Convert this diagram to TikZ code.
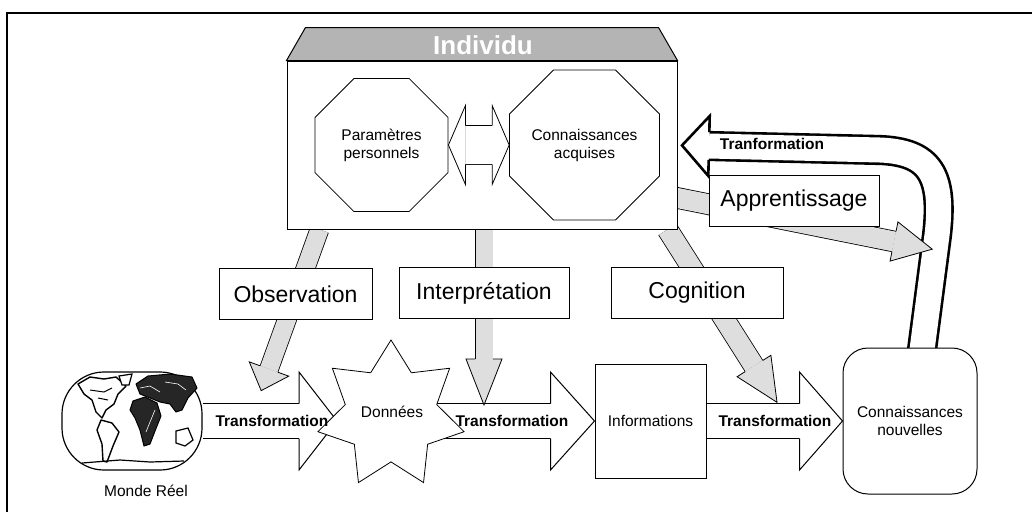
\documentclass[tikz,border=0pt]{standalone}
\usepackage{fontspec}
\setmainfont{Liberation Sans}
\usetikzlibrary{shapes.geometric,decorations.markings,backgrounds,calc}
\definecolor{indgray}{RGB}{180,180,180}
\definecolor{flgray}{RGB}{222,222,222}

% block arrow: fill, shaft width, head half width, head length, line width
\tikzset{
  blockarrow/.style n args={5}{double=#1, double distance=#2pt, line width=#5pt,
    postaction={decorate, decoration={markings, mark=at position 1 with {
      \filldraw[fill=#1, line width=#5pt, line join=miter]
        (0,#2/2+#5/2) -- (0,#3) -- (#4,0) -- (0,-#3) -- (0,-#2/2-#5/2);}}}},
  blocktail/.style n args={5}{
    postaction={decorate, decoration={markings, mark=at position 0 with {
      \filldraw[fill=#1, line width=#5pt, line join=miter]
        (0,#2/2+#5/2) -- (0,#3) -- (-#4,0) -- (0,-#3) -- (0,-#2/2-#5/2);}}}}
}

\begin{document}
\begin{tikzpicture}[x=1pt, y=-1pt,
    box/.style={draw, fill=white, line width=1pt},
    etape/.style={box, minimum height=51, inner sep=0, font=\fontsize{23}{26}\selectfont},
    octo/.style={regular polygon, regular polygon sides=8, minimum size=144, draw, fill=white,
      line width=0.8pt, align=center, inner sep=0, font=\fontsize{15.5}{18}\selectfont},
    small/.style={font=\fontsize{15.5}{18}\selectfont, align=center},
    trans/.style={font=\fontsize{15.5}{18}\selectfont\bfseries, inner sep=0},
    land/.style={draw, fill=black!85, line width=1pt, line join=round}]
  \useasboundingbox (0,0) rectangle (1032,512);
  \draw[line width=1.3pt] (7,512) -- (7,13) -- (1032,13);

  % individu
  \node[box, minimum width=390, minimum height=168] (indiv) at (482,145) {};
  \filldraw[fill=indgray, line width=1pt] (indiv.north west) -- ++(19,-33)
    -- ($(indiv.north east)+(-19,-33)$) -- (indiv.north east) -- cycle;
  \node[text=white, font=\fontsize{26}{28}\selectfont\bfseries] (indivlbl) at (483,45) {Individu};
  \node[octo] (param) at (381.5,145) {Paramètres\\personnels};
  \node[octo] (connacq) at (584.5,145) {Connaissances\\acquises};
  \draw[blockarrow={white}{38}{39.5}{17}{0.8}, blocktail={white}{38}{39.5}{17}{0.8}]
    ($(param.east)+(17,0)$) -- ($(connacq.west)+(-17,0)$);

  % labels
  \node[etape, minimum width=153] (obs) at (295.5,294) {Observation};
  \node[etape, minimum width=170] (interp) at (484,293) {Interprétation};
  \node[etape, minimum width=172] (cogn) at (697,293) {Cognition};
  \node[etape, minimum width=170] (appr) at (794,201) {Apprentissage};

  % bottom row
  \node[draw, fill=white, line width=1.2pt, rounded corners=42, minimum width=140,
    minimum height=98] (monde) at (132,421) {};
  \filldraw[fill=white, line width=1.4pt, line join=round] (78,384) -- (90,377) -- (104,379)
    -- (116,377) -- (126,386) -- (118,394) -- (114,404) -- (106,410) -- (102,418)
    -- (96,412) -- (92,400) -- (84,394) -- cycle;
  \draw[line width=1pt] (90,390) -- (104,392) -- (112,388) (98,398) -- (108,400);
  \filldraw[fill=white, line width=1.4pt, line join=round] (101,420) -- (112,423) -- (119,432)
    -- (113,446) -- (107,462) -- (103,461) -- (102,444) -- (97,430) -- cycle;
  \filldraw[fill=white, line width=1.2pt] (119,376) -- (132,374) -- (129,385) -- (122,385) -- cycle;
  \filldraw[land] (133,401) -- (145,397) -- (157,403) -- (161,416) -- (155,431) -- (150,444)
    -- (144,446) -- (140,430) -- (135,418) -- (130,410) -- cycle;
  \filldraw[land] (136,384) -- (148,376) -- (170,374) -- (192,377) -- (197,388) -- (188,398)
    -- (182,410) -- (176,412) -- (170,404) -- (160,402) -- (150,398) -- (140,394) -- cycle;
  \draw[white, line width=0.6pt] (140,388) -- (150,386) -- (160,392) (155,410) -- (150,422) -- (146,432)
    (165,382) -- (178,384) -- (186,390);
  \filldraw[fill=white, line width=1.2pt] (176,431) -- (188,428) -- (193,440) -- (185,446)
    -- (176,443) -- cycle;
  \draw[line width=1.2pt] (82,463) -- (120,460) -- (150,462) -- (184,461);
  \node[small] (mondelbl) at (146,491) {Monde Réel};

  \node[star, star points=7, star point ratio=1.6, minimum size=150, draw, fill=white,
    line width=0.8pt, small, inner sep=0] (donnees) at (391,415) {};
  \node[small] (donlbl) at (392,412) {Données};
  \node[box, small, minimum width=111, minimum height=114] (infos) at (650.5,421) {Informations};
  \node[box, small, rounded corners=25, minimum width=134, minimum height=146]
    (nouv) at (910,421) {Connaissances\\nouvelles};

  \coordinate (t1head) at (299,421);
  \coordinate (obshead) at (269,369);
  \coordinate (cognhead) at (754,366);
  \coordinate (apprhead) at (894,241.5);
  \coordinate (tranhead) at (709,146);

  \begin{scope}[on background layer]
    \draw[blockarrow={white}{34}{49}{38}{1}] (monde.east) -- (t1head);
    \draw[blockarrow={white}{34}{49}{44}{1}] (donnees.center |- t1head) -- ($(infos.west)+(-44,0)$);
    \draw[blockarrow={white}{34}{49}{43}{1}] (infos.east) -- ($(nouv.west)+(-43,0)$);

    \draw[blockarrow={flgray}{18}{21}{23}{0.8}] ($(indiv.south west)+(33,0)$) -- (obshead);
    \draw[blockarrow={flgray}{17}{18}{46}{0.8}] (interp.north |- indiv.south) -- ($(interp.south)+(0,40)$);
    \draw[blockarrow={flgray}{20}{20}{43}{0.8}] ($(indiv.south east)+(-10,0)$) -- (cognhead);

    \draw[blockarrow={white}{25}{30}{27}{2.6}] ($(nouv.north)+(11,10)$) -- (937,235)
      .. controls (944,175) and (930,152) .. (880,150) -- (tranhead);
    \draw[blockarrow={flgray}{20}{20}{39}{0.8}] ($(indiv.east)+(-5,52)$) -- (apprhead);
  \end{scope}

  \node[trans] (t1) at (272,421) {Transformation};
  \node[trans] (t2) at (512,421) {Transformation};
  \node[trans] (t3) at (775,421) {Transformation};
  \node[trans] (tran) at (772,144) {Tranformation};
\end{tikzpicture}
\end{document}
